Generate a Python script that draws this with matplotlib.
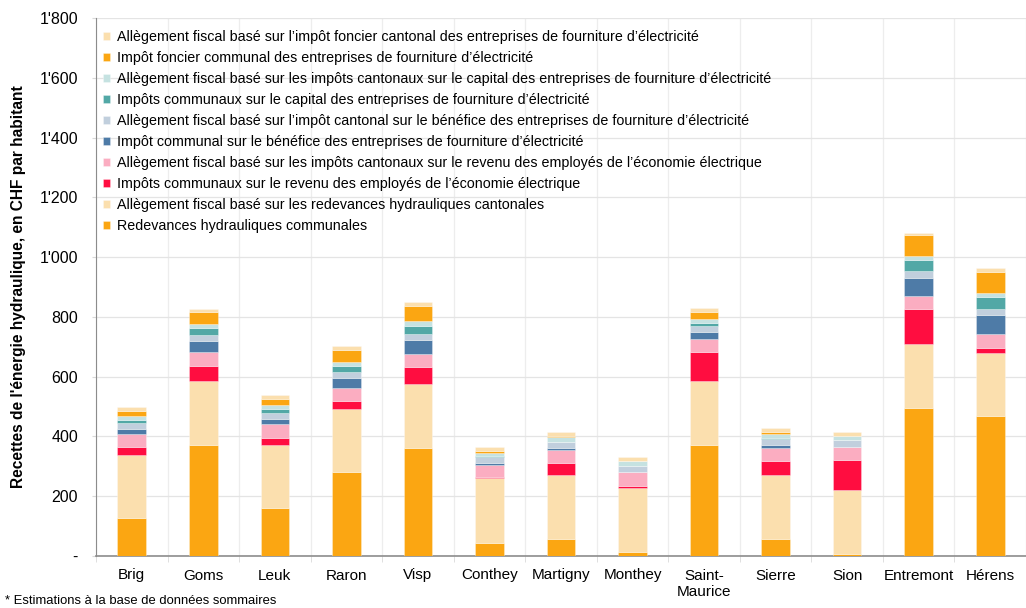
import matplotlib
matplotlib.use("Agg")
import matplotlib.pyplot as plt
import numpy as np
from matplotlib.ticker import FuncFormatter, FixedLocator

plt.rcParams['font.family'] = ['Liberation Sans', 'DejaVu Sans']

categories = ["Brig", "Goms", "Leuk", "Raron", "Visp", "Conthey", "Martigny", "Monthey",
              "Saint-\nMaurice", "Sierre", "Sion", "Entremont", "Hérens"]

# stacking order: bottom -> top
redevances_communales = [126, 371, 161, 280, 361, 45, 58, 13, 372, 58, 6, 496, 467]
allegement_redevances = [213, 215, 212, 212, 214, 216, 213, 214, 213, 214, 214, 214, 213]
impots_revenu_communaux = [26, 50, 22, 26, 57, 2, 39, 7, 97, 46, 102, 117, 17]
allegement_revenu = [44, 45, 45, 44, 45, 42, 45, 47, 43, 45, 43, 42, 46]
impot_benefice_communal = [16, 38, 19, 34, 46, 5, 6, 0, 23, 10, 1, 61, 64]
allegement_benefice = [20, 20, 21, 21, 20, 22, 20, 21, 21, 20, 21, 22, 20]
impots_capital_communaux = [10, 23, 11, 19, 28, 2, 2, 0, 12, 2, 0, 38, 38]
allegement_capital = [14, 14, 14, 13, 15, 12, 16, 15, 13, 14, 14, 13, 16]
impot_foncier_communal = [16, 41, 20, 40, 50, 6, 4, 0, 23, 7, 1, 70, 69]
allegement_foncier = [13, 11, 13, 13, 13, 13, 12, 14, 13, 13, 12, 9, 12]

series = [
    ("Redevances hydrauliques communales", redevances_communales, "#FBA612"),
    ("Allègement fiscal basé sur les redevances hydrauliques cantonales", allegement_redevances, "#FBDFAE"),
    ("Impôts communaux sur le revenu des employés de l’économie électrique", impots_revenu_communaux, "#FF0D40"),
    ("Allègement fiscal basé sur les impôts cantonaux sur le revenu des employés de l’économie électrique", allegement_revenu, "#FBADC1"),
    ("Impôt communal sur le bénéfice des entreprises de fourniture d’électricité", impot_benefice_communal, "#4E7BA7"),
    ("Allègement fiscal basé sur l’impôt cantonal sur le bénéfice des entreprises de fourniture d’électricité", allegement_benefice, "#C1CFDD"),
    ("Impôts communaux sur le capital des entreprises de fourniture d’électricité", impots_capital_communaux, "#52A8A6"),
    ("Allègement fiscal basé sur les impôts cantonaux sur le capital des entreprises de fourniture d’électricité", allegement_capital, "#C5E2E1"),
    ("Impôt foncier communal des entreprises de fourniture d’électricité", impot_foncier_communal, "#FBA612"),
    ("Allègement fiscal basé sur l’impôt foncier cantonal des entreprises de fourniture d’électricité", allegement_foncier, "#FBDFAE"),
]

fig = plt.figure(figsize=(10.26, 6.08), dpi=100)
ax = fig.add_axes([96/1026, 1 - 556/608, 930/1026, (556-18)/608])

x = np.arange(len(categories))
bottom = np.zeros(len(categories))
handles = []
for label, vals, color in series:
    v = np.array(vals, dtype=float)
    h = ax.bar(x, v, 0.4, bottom=bottom, color=color, edgecolor=(1, 1, 1, 0.35),
               linewidth=0.6, label=label, zorder=3)
    handles.append(h)
    bottom += v

ax.set_xlim(-0.5, len(categories) - 0.5)
ax.set_ylim(0, 1800)
ax.yaxis.set_major_locator(FixedLocator(np.arange(0, 1801, 200)))

def fmt(v, pos):
    v = int(round(v))
    if v == 0:
        return "-"
    return f"{v:,}".replace(",", "'")

ax.yaxis.set_major_formatter(FuncFormatter(fmt))
ax.set_xticks(x)
ax.set_xticklabels(categories, fontsize=11)
ax.set_xticks(np.arange(-0.5, len(categories), 1), minor=True)
ax.tick_params(axis='x', which='major', length=0, pad=9)
ax.tick_params(axis='x', which='minor', length=4, color='#D9D9D9')
ax.tick_params(axis='y', length=3, color='#D9D9D9', labelsize=11.5, pad=10)

ax.grid(axis='y', color='#E4E4E4', linewidth=0.9, zorder=0)
ax.grid(axis='x', which='minor', color='#EDEDED', linewidth=0.9, zorder=0)
for s in ['top', 'right']:
    ax.spines[s].set_visible(False)
ax.spines['left'].set_color('#8C8C8C')
ax.spines['bottom'].set_color('#8C8C8C')
ax.spines['bottom'].set_linewidth(1.2)

ax.set_ylabel("Recettes de l'énergie hydraulique, en CHF par habitant", fontsize=11.2,
              fontweight='bold')
ax.yaxis.set_label_coords((26 - 96) / 930, 0.5)

leg = ax.legend(handles[::-1], [s[0] for s in series][::-1], loc='upper left',
                bbox_to_anchor=(0.0, 0.991), frameon=False, fontsize=10.3,
                handlelength=0.5, handleheight=0.5, handletextpad=0.5,
                labelspacing=0.49, borderaxespad=0.3, borderpad=0.2)

fig.text(5/1026, 1 - 607/608, "* Estimations à la base de données sommaires", fontsize=9.4,
         va='bottom', ha='left')

fig.savefig("out.png", dpi=100)
